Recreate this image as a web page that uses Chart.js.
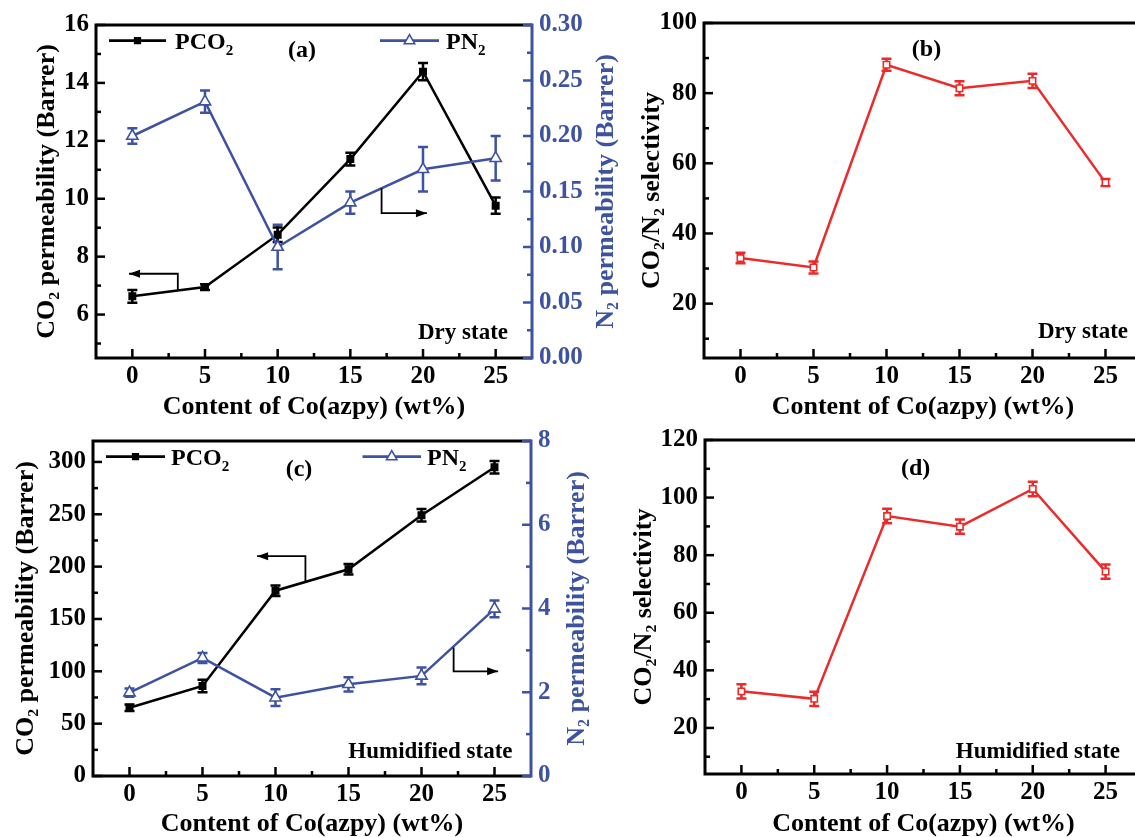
<!DOCTYPE html>
<html lang="en">
<head>
<meta charset="UTF-8">
<title>CO2 / N2 permeability and selectivity vs Co(azpy) content</title>
<script src="https://cdn.jsdelivr.net/npm/chart.js"></script>
<style>
  html, body { margin: 0; padding: 0; background: #fff; width: 1135px; height: 837px; overflow: hidden; }
  .panel { position: absolute; }
</style>
</head>
<body>
<div class="panel" style="left:0;top:0"><canvas id="chartA" width="625" height="425"></canvas></div>
<div class="panel" style="left:625px;top:0"><canvas id="chartB" width="540" height="425"></canvas></div>
<div class="panel" style="left:0;top:415px"><canvas id="chartC" width="625" height="430"></canvas></div>
<div class="panel" style="left:625px;top:415px"><canvas id="chartD" width="540" height="430"></canvas></div>

<script>
// ---- data ----
const contents = [0, 5, 10, 15, 20, 25];          // Co(azpy) wt%
const xTicks = [0, 5, 10, 15, 20, 25];
const xMinor = [2.5, 7.5, 12.5, 17.5, 22.5];

// (a) dry state
const dryPCO2    = [6.63, 6.95, 8.76, 11.37, 14.39, 9.76];
const dryPCO2Err = [0.22, 0.1, 0.25, 0.22, 0.3, 0.28];
const dryPN2     = [0.200, 0.231, 0.100, 0.140, 0.170, 0.180];
const dryPN2Err  = [0.007, 0.010, 0.020, 0.010, 0.020, 0.020];
const dryPermTicks = [6, 8, 10, 12, 14, 16];
const dryPermMinor = [5, 7, 9, 11, 13, 15];
const dryN2Ticks = [0, 0.05, 0.10, 0.15, 0.20, 0.25, 0.30];
const dryN2Minor = [0.025, 0.075, 0.125, 0.175, 0.225, 0.275];

// (b) dry selectivity
const drySel    = [33.0, 30.3, 88.1, 81.4, 83.5, 54.5];
const drySelErr = [1.5, 1.7, 1.7, 2.0, 2.0, 1.0];
const drySelTicks = [20, 40, 60, 80, 100];
const drySelMinor = [10, 30, 50, 70, 90];

// (c) humidified state
const humPCO2    = [65.2, 86, 177, 197.5, 249, 295];
const humPCO2Err = [3, 6, 5, 5, 6, 6];
const humPN2     = [1.99, 2.82, 1.87, 2.19, 2.39, 3.99];
const humPN2Err  = [0.1, 0.12, 0.2, 0.17, 0.2, 0.2];
const humPermTicks = [0, 50, 100, 150, 200, 250, 300];
const humPermMinor = [25, 75, 125, 175, 225, 275];
const humN2Ticks = [0, 2, 4, 6, 8];
const humN2Minor = [1, 3, 5, 7];

// (d) humidified selectivity
const humSel    = [32.7, 30.1, 93.6, 89.9, 103, 74.3];
const humSelErr = [2.5, 2.5, 2.5, 2.5, 2.5, 2.5];
const humSelTicks = [20, 40, 60, 80, 100, 120];
const humSelMinor = [10, 30, 50, 70, 90, 110];

// ---- styling ----
const serif = "'Liberation Serif', 'Times New Roman', 'DejaVu Serif', serif";
const BLACK = '#000000', BLUE = '#3d52a1', RED = '#ec2a2a';

const pts = vals => contents.map((c, i) => ({ x: c, y: vals[i] }));
const fixedTicks = vals => s => { s.ticks = vals.map(v => ({ value: v })); };

function xScale(height, titlePad) {
  return {
    type: 'linear', min: -2.5, max: 27.5,
    afterBuildTicks: fixedTicks(xTicks),
    afterFit: s => { s.height = height; },
    grid: { display: false, drawTicks: false },
    border: { display: false },
    ticks: { color: BLACK, padding: 4, maxRotation: 0, autoSkip: false,
             font: { family: serif, size: 25, weight: 'bold' }, callback: v => String(v) },
    title: { display: true, text: 'Content of Co(azpy) (wt%)', color: BLACK,
             font: { family: serif, size: 26, weight: 'bold' }, padding: { top: 0, bottom: titlePad } }
  };
}

// right-hand titles are drawn by the plugin (they read bottom-to-top like the left ones)
function yScale(pos, min, max, ticks, width, title, color, titlePad, digits) {
  return {
    type: 'linear', position: pos, min: min, max: max,
    afterBuildTicks: fixedTicks(ticks),
    afterFit: s => { s.width = width; },
    grid: { display: false, drawTicks: false },
    border: { display: false },
    ticks: { color: color, padding: 7, autoSkip: false,
             font: { family: serif, size: 25, weight: 'bold' }, callback: v => v.toFixed(digits) },
    title: { display: pos === 'left', text: title, color: color,
             font: { family: serif, size: 26, weight: 'bold' }, padding: { top: titlePad, bottom: 0 } }
  };
}

function lineSet(label, vals, err, color, style, radius, fill, axis) {
  return {
    label: label, data: pts(vals), err: err, yAxisID: axis,
    borderColor: color, backgroundColor: color, borderWidth: 2.5,
    pointStyle: style, pointRadius: radius, pointBackgroundColor: fill,
    pointBorderColor: color, pointBorderWidth: 1.6, tension: 0
  };
}

// text with "_2" style subscripts
function richText(ctx, str, x, y, size, align, color) {
  const parts = str.split(/(_\d)/).filter(Boolean);
  const subSize = Math.round(size * 0.62);
  let w = 0;
  parts.forEach(p => {
    ctx.font = `bold ${p[0] === '_' ? subSize : size}px ${serif}`;
    w += ctx.measureText(p[0] === '_' ? p.slice(1) : p).width;
  });
  let cx = align === 'right' ? x - w : align === 'center' ? x - w / 2 : x;
  ctx.fillStyle = color;
  ctx.textAlign = 'left';
  ctx.textBaseline = 'middle';
  parts.forEach(p => {
    const sub = p[0] === '_';
    const t = sub ? p.slice(1) : p;
    ctx.font = `bold ${sub ? subSize : size}px ${serif}`;
    ctx.fillText(t, cx, sub ? y + size * 0.32 : y);
    cx += ctx.measureText(t).width;
  });
}

const panelDecor = {
  id: 'panelDecor',
  beforeDatasetsDraw(chart) {
    const ctx = chart.ctx;
    chart.data.datasets.forEach((ds, i) => {
      const meta = chart.getDatasetMeta(i);
      const ys = chart.scales[ds.yAxisID];
      ctx.save();
      ctx.strokeStyle = ds.borderColor;
      ctx.lineWidth = 2.5;
      meta.data.forEach((pt, j) => {
        const v = ds.data[j].y, e = ds.err[j];
        const y1 = ys.getPixelForValue(v - e), y2 = ys.getPixelForValue(v + e);
        ctx.beginPath();
        ctx.moveTo(pt.x, y1); ctx.lineTo(pt.x, y2);
        ctx.moveTo(pt.x - 5, y1); ctx.lineTo(pt.x + 5, y1);
        ctx.moveTo(pt.x - 5, y2); ctx.lineTo(pt.x + 5, y2);
        ctx.stroke();
      });
      ctx.restore();
    });
  },
  afterDraw(chart, args, o) {
    const ctx = chart.ctx;
    const a = chart.chartArea;
    const xs = chart.scales.x;
    ctx.save();

    // frame
    ctx.lineWidth = 3;
    ctx.strokeStyle = BLACK;
    ctx.beginPath();
    ctx.moveTo(a.right, a.top); ctx.lineTo(a.left, a.top);
    ctx.lineTo(a.left, a.bottom); ctx.lineTo(a.right, a.bottom);
    ctx.stroke();
    ctx.strokeStyle = o.rightColor || BLACK;
    ctx.beginPath();
    ctx.moveTo(a.right, a.top - 1.5); ctx.lineTo(a.right, a.bottom + 1.5);
    ctx.stroke();

    // inward tick marks
    ctx.lineWidth = 2.5;
    const xt = (vals, len) => vals.forEach(v => {
      const px = xs.getPixelForValue(v);
      ctx.beginPath(); ctx.moveTo(px, a.bottom); ctx.lineTo(px, a.bottom - len); ctx.stroke();
    });
    const yt = (scale, vals, len, side) => vals.forEach(v => {
      const py = scale.getPixelForValue(v);
      const x0 = side === 'left' ? a.left : a.right;
      const dir = side === 'left' ? 1 : -1;
      ctx.beginPath(); ctx.moveTo(x0, py); ctx.lineTo(x0 + dir * len, py); ctx.stroke();
    });
    ctx.strokeStyle = BLACK;
    xt(xTicks, 9); xt(xMinor, 5);
    yt(chart.scales.y, chart.scales.y.ticks.map(t => t.value), 9, 'left');
    yt(chart.scales.y, o.yMinor, 5, 'left');
    if (chart.scales.y2) {
      ctx.strokeStyle = o.rightColor;
      yt(chart.scales.y2, chart.scales.y2.ticks.map(t => t.value), 9, 'right');
      yt(chart.scales.y2, o.y2Minor, 5, 'right');
      // right axis title, rotated to read upwards
      ctx.save();
      ctx.translate(a.right + o.rightTitleDx, (a.top + a.bottom) / 2);
      ctx.rotate(-Math.PI / 2);
      richText(ctx, o.rightTitle, 0, 0, 26, 'center', o.rightColor);
      ctx.restore();
    }

    // arrows pointing at the matching axis
    (o.arrows || []).forEach(ar => {
      const ys = chart.scales[ar.axis];
      const p = ar.pts.map(q => [xs.getPixelForValue(q[0]), ys.getPixelForValue(q[1])]);
      ctx.strokeStyle = BLACK; ctx.fillStyle = BLACK; ctx.lineWidth = 1.8;
      ctx.beginPath();
      p.forEach((q, i) => i ? ctx.lineTo(q[0], q[1]) : ctx.moveTo(q[0], q[1]));
      ctx.stroke();
      const [x1, y1] = p[p.length - 2], [x2, y2] = p[p.length - 1];
      const ang = Math.atan2(y2 - y1, x2 - x1), L = 11, W = 4;
      ctx.beginPath();
      ctx.moveTo(x2, y2);
      ctx.lineTo(x2 - L * Math.cos(ang) + W * Math.sin(ang), y2 - L * Math.sin(ang) - W * Math.cos(ang));
      ctx.lineTo(x2 - L * Math.cos(ang) - W * Math.sin(ang), y2 - L * Math.sin(ang) + W * Math.cos(ang));
      ctx.closePath(); ctx.fill();
    });

    // in-plot legend
    (o.legend || []).forEach(l => {
      const y = a.top + l.dy;
      const x1 = a.left + l.x1, x2 = a.left + l.x2;
      ctx.strokeStyle = l.color; ctx.lineWidth = 2.8;
      ctx.beginPath(); ctx.moveTo(x1, y); ctx.lineTo(x2, y); ctx.stroke();
      ctx.fillStyle = l.fill; ctx.lineWidth = 1.6;
      Chart.helpers.drawPoint(ctx, { pointStyle: l.style, radius: l.radius, rotation: 0, borderWidth: 1.6 }, (x1 + x2) / 2, y);
      richText(ctx, l.text, a.left + l.tx, a.top + l.ty, 24, 'left', BLACK);
    });

    // panel letters / state labels
    (o.texts || []).forEach(t => richText(ctx, t.text, a.left + t.dx, a.top + t.dy, t.size, t.align, BLACK));
    ctx.restore();
  }
};

function makeChart(id, datasets, scales, padding, decor) {
  return new Chart(document.getElementById(id), {
    type: 'line',
    data: { datasets: datasets },
    options: {
      responsive: false,
      animation: false,
      layout: { padding: padding },
      scales: scales,
      plugins: { legend: { display: false }, tooltip: { enabled: false }, panelDecor: decor }
    },
    plugins: [panelDecor]
  });
}

// (a)
makeChart('chartA', [
    lineSet('PN₂', dryPN2, dryPN2Err, BLUE, 'triangle', 6.5, '#ffffff', 'y2'),
    lineSet('PCO₂', dryPCO2, dryPCO2Err, BLACK, 'rect', 4.5, BLACK, 'y')
  ], {
    x: xScale(67, 2),
    y: yScale('left', 4.5, 16, dryPermTicks, 96, 'CO₂ permeability (Barrer)', BLACK, 32, 0),
    y2: yScale('right', 0, 0.30, dryN2Ticks, 93, 'N₂ permeability (Barrer)', BLUE, 3, 2)
  }, { top: 25, right: 0, bottom: 0, left: 0 }, {
    rightColor: BLUE, yMinor: dryPermMinor, y2Minor: dryN2Minor,
    rightTitle: 'N_2 permeability (Barrer)', rightTitleDx: 74,
    arrows: [
      { axis: 'y', pts: [[3.13, 6.86], [3.13, 7.41], [-0.23, 7.41]] },
      { axis: 'y2', pts: [[17.15, 0.153], [17.15, 0.1305], [20.27, 0.1305]] }
    ],
    legend: [
      { x1: 13, x2: 70, dy: 15.7, color: BLACK, fill: BLACK, style: 'rect', radius: 4, text: 'PCO_2', tx: 79, ty: 18 },
      { x1: 284, x2: 343, dy: 15.7, color: BLUE, fill: '#ffffff', style: 'triangle', radius: 6, text: 'PN_2', tx: 350, ty: 18 }
    ],
    texts: [
      { text: '(a)', dx: 206, dy: 25.8, size: 24, align: 'center' },
      { text: 'Dry state', dx: 412, dy: 308, size: 23, align: 'right' }
    ]
  });

// (b)
makeChart('chartB', [
    lineSet('CO₂/N₂ selectivity', drySel, drySelErr, RED, 'rect', 4.5, '#ffffff', 'y')
  ], {
    x: xScale(67, 2),
    y: yScale('left', 4.5, 100, drySelTicks, 79, 'CO₂/N₂ selectivity', BLACK, 12, 0)
  }, { top: 23, right: 23, bottom: 0, left: 0 }, {
    yMinor: drySelMinor,
    texts: [
      { text: '(b)', dx: 222.5, dy: 26.7, size: 24, align: 'center' },
      { text: 'Dry state', dx: 424, dy: 309, size: 23, align: 'right' }
    ]
  });

// (c)
makeChart('chartC', [
    lineSet('PN₂', humPN2, humPN2Err, BLUE, 'triangle', 6.5, '#ffffff', 'y2'),
    lineSet('PCO₂', humPCO2, humPCO2Err, BLACK, 'rect', 4.5, BLACK, 'y')
  ], {
    x: xScale(69, 5),
    y: yScale('left', 0, 320, humPermTicks, 93, 'CO₂ permeability (Barrer)', BLACK, 11, 0),
    y2: yScale('right', 0, 8, humN2Ticks, 94, 'N₂ permeability (Barrer)', BLUE, 32, 0)
  }, { top: 26, right: 0, bottom: 0, left: 0 }, {
    rightColor: BLUE, yMinor: humPermMinor, y2Minor: humN2Minor,
    rightTitle: 'N_2 permeability (Barrer)', rightTitleDx: 46,
    arrows: [
      { axis: 'y', pts: [[12.05, 186], [12.05, 210], [8.74, 210]] },
      { axis: 'y2', pts: [[22.2, 3.07], [22.2, 2.5], [25.25, 2.5]] }
    ],
    legend: [
      { x1: 13, x2: 72, dy: 15.7, color: BLACK, fill: BLACK, style: 'rect', radius: 4, text: 'PCO_2', tx: 78, ty: 18 },
      { x1: 269.5, x2: 328, dy: 15.7, color: BLUE, fill: '#ffffff', style: 'triangle', radius: 6, text: 'PN_2', tx: 334, ty: 18 }
    ],
    texts: [
      { text: '(c)', dx: 206, dy: 29, size: 24, align: 'center' },
      { text: 'Humidified state', dx: 419.5, dy: 310.7, size: 23, align: 'right' }
    ]
  });

// (d)
makeChart('chartD', [
    lineSet('CO₂/N₂ selectivity', humSel, humSelErr, RED, 'rect', 4.5, '#ffffff', 'y')
  ], {
    x: xScale(71, 5),
    y: yScale('left', 4, 120, humSelTicks, 80, 'CO₂/N₂ selectivity', BLACK, 4, 0)
  }, { top: 25, right: 23, bottom: 0, left: 0 }, {
    yMinor: humSelMinor,
    texts: [
      { text: '(d)', dx: 210.7, dy: 29, size: 24, align: 'center' },
      { text: 'Humidified state', dx: 415, dy: 312, size: 23, align: 'right' }
    ]
  });
</script>
</body>
</html>
